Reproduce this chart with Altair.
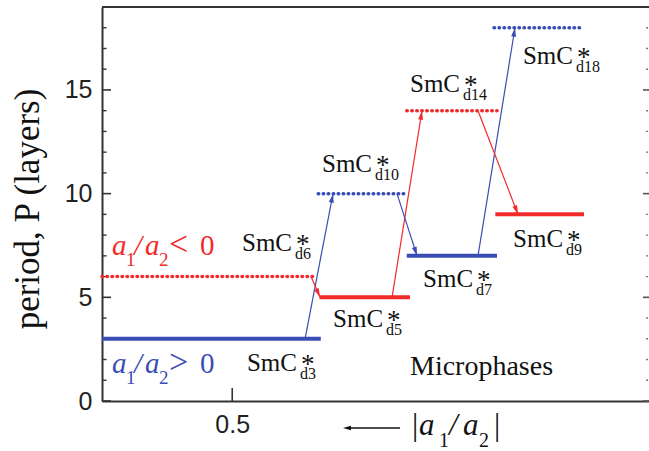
import math
import altair as alt
import pandas as pd

# ---------------- data ----------------
# horizontal period levels (|a1/a2| range, period P)
seg_x1 = [0.600, 0.600, 0.433, 0.434, 0.366, 0.366, 0.298, 0.299]
seg_x2 = [0.432, 0.435, 0.3635, 0.365, 0.2967, 0.2967, 0.2299, 0.2307]
seg_y = [3, 6, 5, 10, 7, 14, 9, 18]
seg_color = ["blue", "red", "red", "blue", "blue", "red", "red", "blue"]
seg_style = ["solid", "dotted", "solid", "dotted", "solid", "dotted", "solid", "dotted"]

# transition arrows
arr_x1 = [0.4441, 0.4395, 0.3773, 0.3735, 0.3113, 0.3113]
arr_y1 = [3, 6, 5, 10, 7, 14]
arr_x2 = [0.4226, 0.4326, 0.3543, 0.3581, 0.2829, 0.2806]
arr_y2 = [10, 5, 14, 7, 18, 9]
arr_color = ["blue", "red", "red", "blue", "blue", "red"]

# phase labels SmC*_dN
lab_sub = ["d3", "d6", "d10", "d5", "d14", "d18", "d7", "d9"]
lab_x = [0.4887, 0.4925, 0.4311, 0.4226, 0.3635, 0.2768, 0.3535, 0.2844]
lab_y = [1.45, 7.23, 11.04, 3.57, 14.9, 16.25, 5.50, 7.43]

# axis ticks
y_major = [0, 5, 10, 15]
y_minor = [1, 2, 3, 4, 6, 7, 8, 9, 11, 12, 13, 14, 16, 17, 18]
x_major = [0.5]

X_DOMAIN = [0.18, 0.6]
Y_DOMAIN = [0, 19]
Y_TITLE = "period, P (layers)"

# ---------------- styling ----------------
W, H = 547, 394
BLUE = "#3a4db5"
RED = "#f22a2a"
AX = "#333333"
SERIF = "Liberation Serif"
SANS = "Liberation Sans"

xs = alt.Scale(domain=X_DOMAIN, reverse=True, nice=False, zero=False)
ys = alt.Scale(domain=Y_DOMAIN, nice=False, zero=False)
cs = alt.Scale(domain=["blue", "red"], range=[BLUE, RED])

xaxis = alt.Axis(values=x_major, title=None, format=".1f", labelFont=SANS,
                 labelFontSize=25, labelColor="#222", labelPadding=11,
                 ticks=False, tickSize=0, grid=False, domainColor=AX,
                 domainWidth=2, labelFlush=False)
yaxis = alt.Axis(values=y_major, title=None, labelFont=SANS, labelFontSize=25,
                 labelColor="#222", labelPadding=10, ticks=False, tickSize=0,
                 grid=False, domainColor=AX, domainWidth=2, labelFlush=False)


def X(f):
    return alt.X(f, type="quantitative", scale=xs, axis=xaxis)


def Y(f):
    return alt.Y(f, type="quantitative", scale=ys, axis=yaxis)


seg = pd.DataFrame({"x": seg_x1, "x2": seg_x2, "y": seg_y,
                    "c": seg_color, "s": seg_style})
arr = pd.DataFrame({"x": arr_x1, "y": arr_y1, "x2": arr_x2, "y2": arr_y2,
                    "c": arr_color})

# arrowhead placement/orientation derived from the scales
pxX = W / (X_DOMAIN[1] - X_DOMAIN[0])
pxY = H / (Y_DOMAIN[1] - Y_DOMAIN[0])
hx, hy, ha = [], [], []
for x1, y1, x2, y2 in zip(arr_x1, arr_y1, arr_x2, arr_y2):
    dx = -(x2 - x1) * pxX
    dy = -(y2 - y1) * pxY
    L = math.hypot(dx, dy)
    ux, uy = dx / L, dy / L
    hx.append(x2 + 4.5 * ux / pxX)
    hy.append(y2 + 4.5 * uy / pxY)
    ha.append(math.degrees(math.atan2(ux, -uy)) % 360)
heads = pd.DataFrame({"x": hx, "y": hy, "a": ha, "c": arr_color})

labs = pd.DataFrame({"x": lab_x, "y": lab_y, "main": ["SmC"] * len(lab_x),
                     "star": ["*"] * len(lab_x), "sub": lab_sub})
one = pd.DataFrame({"k": [0]})
ARROW = "M0,-1L0.55,1L-0.55,1Z"

layers = []

# frame: top line, inward ticks
layers.append(alt.Chart(one).mark_rule(color=AX, strokeWidth=2).encode(
    x=alt.value(0), x2=alt.value(W), y=alt.value(0)))
ymaj = pd.DataFrame({"t": y_major})
ymin = pd.DataFrame({"t": y_minor})
layers.append(alt.Chart(ymaj).mark_rule(color=AX, strokeWidth=1.6).encode(
    y=Y("t"), x=alt.value(0), x2=alt.value(9)))
layers.append(alt.Chart(ymin).mark_rule(color=AX, strokeWidth=1.4).encode(
    y=Y("t"), x=alt.value(0), x2=alt.value(4.5)))
layers.append(alt.Chart(ymaj).mark_rule(color="#555", strokeWidth=1.6).encode(
    y=Y("t"), x=alt.value(W - 6), x2=alt.value(W)))
layers.append(alt.Chart(ymin).mark_rule(color="#777", strokeWidth=1.4).encode(
    y=Y("t"), x=alt.value(W - 3), x2=alt.value(W - 1)))
layers.append(alt.Chart(pd.DataFrame({"t": x_major})).mark_rule(
    color=AX, strokeWidth=1.6).encode(x=X("t"), y=alt.value(H), y2=alt.value(H - 13)))

# levels
layers.append(alt.Chart(seg).transform_filter("datum.s == 'dotted'").mark_rule(
    strokeWidth=3.5, strokeDash=[0.5, 4.5], strokeCap="round").encode(
    x=X("x"), x2="x2", y=Y("y"), color=alt.Color("c:N", scale=cs, legend=None)))
layers.append(alt.Chart(seg).transform_filter("datum.s == 'solid'").mark_rule(
    strokeWidth=4).encode(
    x=X("x"), x2="x2", y=Y("y"), color=alt.Color("c:N", scale=cs, legend=None)))

# arrows
layers.append(alt.Chart(arr).mark_rule(strokeWidth=1.2).encode(
    x=X("x"), x2="x2", y=Y("y"), y2="y2",
    color=alt.Color("c:N", scale=cs, legend=None)))
layers.append(alt.Chart(heads).mark_point(shape=ARROW, filled=True, size=81,
                                          opacity=1, strokeWidth=0).encode(
    x=X("x"), y=Y("y"), angle=alt.Angle("a:Q", scale=None),
    color=alt.Color("c:N", scale=cs, legend=None)))

# phase labels
base_t = dict(font=SERIF, align="left", baseline="alphabetic", color="#111")
layers.append(alt.Chart(labs).mark_text(fontSize=25, **base_t).encode(
    x=X("x"), y=Y("y"), text="main:N"))
layers.append(alt.Chart(labs).mark_text(fontSize=27, dx=54, dy=2, **base_t).encode(
    x=X("x"), y=Y("y"), text="star:N"))
layers.append(alt.Chart(labs).mark_text(fontSize=16, dx=53, dy=8, **base_t).encode(
    x=X("x"), y=Y("y"), text="sub:N"))

# Microphases
layers.append(alt.Chart(pd.DataFrame({"x": [0.3635], "y": [1.25]})).mark_text(
    fontSize=28, text="Microphases", **base_t).encode(x=X("x"), y=Y("y")))

# sign labels a1/a2<0 and a1/a2>0
def sign_label(x, y, rel, color):
    d = pd.DataFrame({"x": [x], "y": [y]})
    pieces = [("a", 0, 0, 29, True), ("1", 14, 11, 19, False),
              ("/", 22, 0, 29, True), ("a", 33, 0, 29, True),
              ("2", 47, 11, 19, False), (rel, 57, 0, 34, False),
              ("0", 88, 0, 29, False)]
    out = []
    for t, dx, dy, fs, it in pieces:
        out.append(alt.Chart(d).mark_text(
            text=t, dx=dx, dy=dy, fontSize=fs, font=SERIF,
            fontStyle="italic" if it else "normal", color=color,
            align="left", baseline="alphabetic").encode(x=X("x"), y=Y("y")))
    return out

layers += sign_label(0.5923, 7.04, "<", RED)
layers += sign_label(0.5923, 1.35, ">", BLUE)

# y-axis title (serif, rotated)
layers.append(alt.Chart(one).mark_text(
    text=Y_TITLE, angle=270, fontSize=35, font=SERIF, color="#111",
    align="center", baseline="middle").encode(x=alt.value(-74), y=alt.value(202)))

# x-axis caption:  <--  |a1/a2|
cap = [("|", 310, 428, 31, False), ("a", 317, 428, 31, True),
       ("1", 337, 440, 20, False), ("/", 347, 428, 31, True),
       ("a", 361, 428, 31, True), ("2", 377, 440, 20, False),
       ("|", 392, 428, 31, False)]
for t, px, py, fs, it in cap:
    layers.append(alt.Chart(one).mark_text(
        text=t, fontSize=fs, font=SERIF, fontStyle="italic" if it else "normal",
        color="#111", align="left", baseline="alphabetic").encode(
        x=alt.value(px), y=alt.value(py)))
layers.append(alt.Chart(one).mark_rule(color="#111", strokeWidth=1.5).encode(
    x=alt.value(248), x2=alt.value(298), y=alt.value(421)))
layers.append(alt.Chart(one).mark_point(shape=ARROW, filled=True, size=64,
                                        angle=270, opacity=1, color="#111",
                                        strokeWidth=0).encode(
    x=alt.value(245), y=alt.value(421)))

chart = alt.layer(*layers).properties(
    width=W, height=H,
    autosize=alt.AutoSizeParams(type="none"),
    padding={"left": 102, "top": 7, "right": 0, "bottom": 50},
    background="white",
).configure_view(stroke=None)

chart.save("out.html", embed_options={"renderer": "svg", "actions": False})
